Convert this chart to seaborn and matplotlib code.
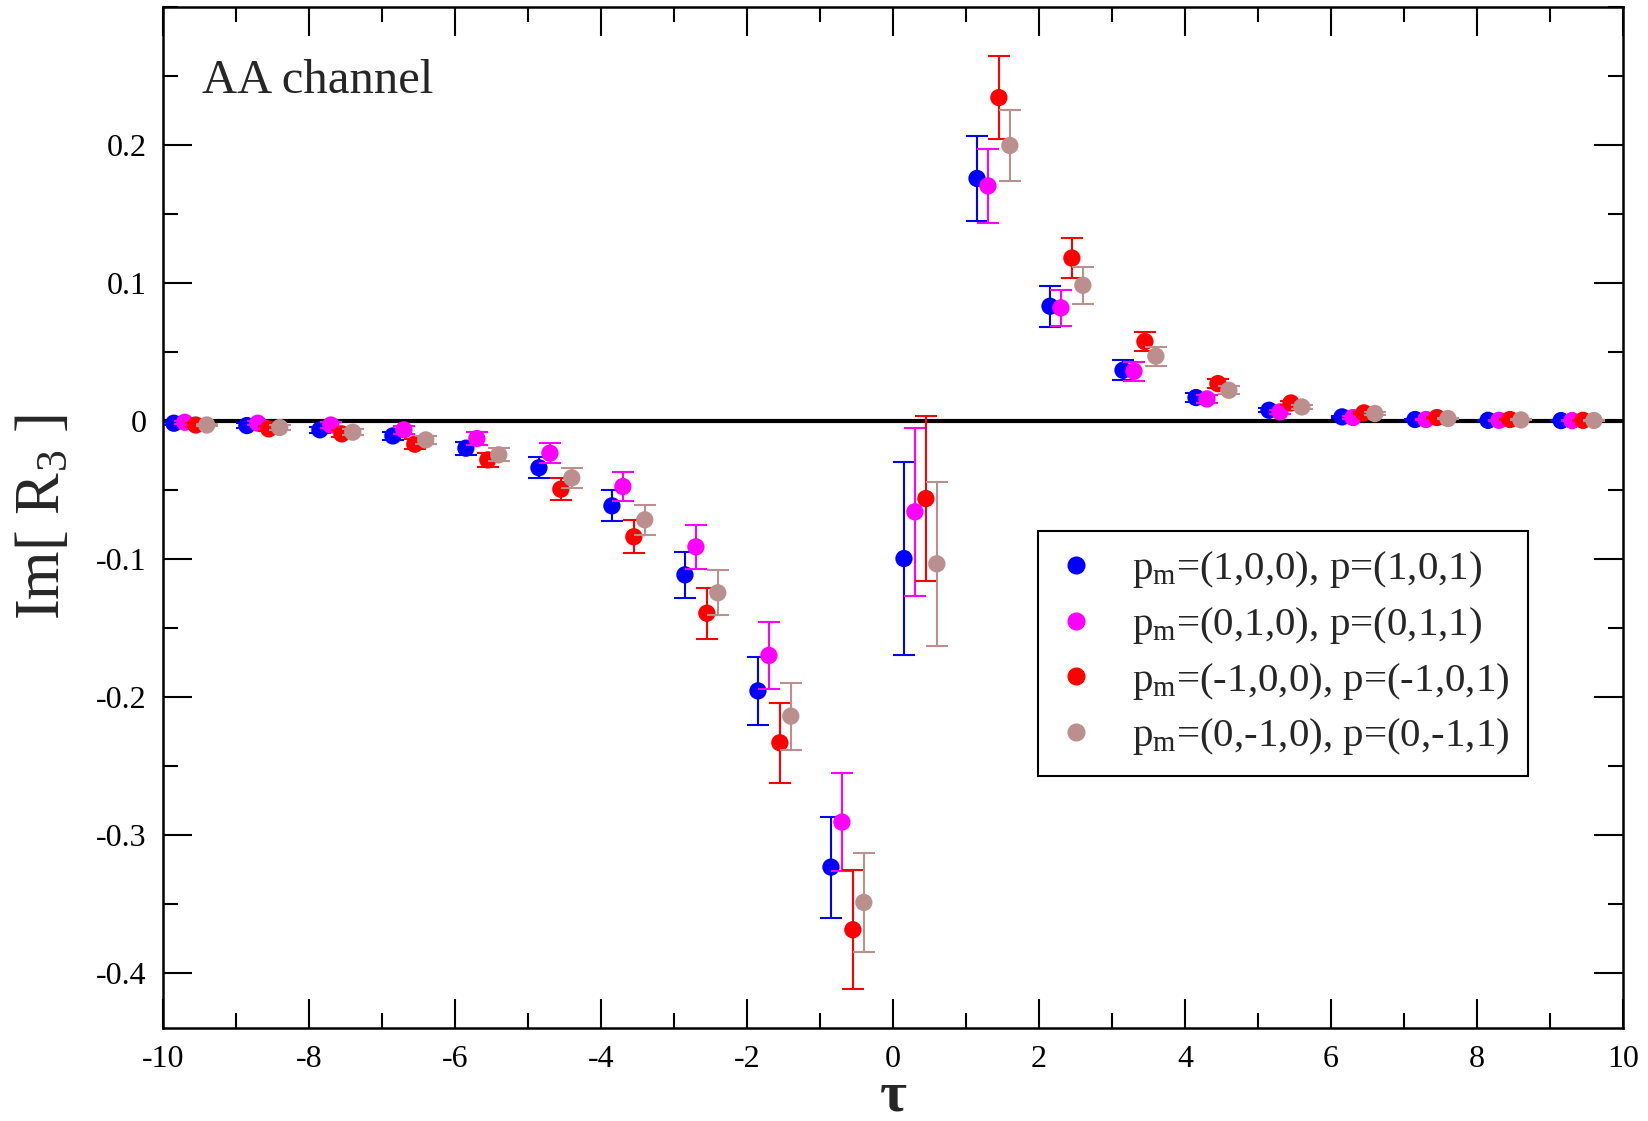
import numpy as np
import pandas as pd
import matplotlib
matplotlib.use("Agg")
import matplotlib.pyplot as plt
from matplotlib.lines import Line2D
from matplotlib.ticker import MultipleLocator, FixedLocator, FixedFormatter
import seaborn as sns

# ---------------- data ----------------
tau = list(range(-10, 10))
offsets = [0.15, 0.30, 0.45, 0.60]
series_labels = [
    r"p$_\mathrm{m}$=(1,0,0), p=(1,0,1)",
    r"p$_\mathrm{m}$=(0,1,0), p=(0,1,1)",
    r"p$_\mathrm{m}$=(-1,0,0), p=(-1,0,1)",
    r"p$_\mathrm{m}$=(0,-1,0), p=(0,-1,1)",
]
colors = ["#0000ff", "#ff00ff", "#ff0000", "#bc8f8f"]

blue_val = [-0.0017, -0.0034, -0.0065, -0.0109, -0.0198, -0.034, -0.0616, -0.1116, -0.1957, -0.3234,
            -0.0998, 0.1757, 0.0831, 0.0367, 0.0169, 0.0077, 0.0029, 0.0010, 0.0004, 0.0002]
blue_err = [0.001, 0.0015, 0.002, 0.003, 0.0047, 0.0075, 0.0112, 0.0168, 0.0249, 0.0366,
            0.070, 0.031, 0.015, 0.0074, 0.003, 0.0015, 0.0008, 0.0005, 0.0003, 0.0002]

magenta_val = [-0.0010, -0.0017, -0.0030, -0.0065, -0.0128, -0.0234, -0.0476, -0.0913, -0.170, -0.2908,
               -0.0659, 0.1703, 0.0819, 0.0360, 0.0159, 0.0065, 0.0024, 0.0010, 0.0004, 0.0002]
magenta_err = [0.001, 0.0015, 0.002, 0.003, 0.0046, 0.007, 0.0106, 0.0159, 0.0242, 0.0355,
               0.061, 0.0267, 0.0133, 0.007, 0.003, 0.0015, 0.0008, 0.0005, 0.0003, 0.0002]

red_val = [-0.0030, -0.0058, -0.0094, -0.0169, -0.0283, -0.0495, -0.084, -0.1394, -0.2333, -0.3688,
           -0.0563, 0.2343, 0.118, 0.0575, 0.027, 0.013, 0.0058, 0.0024, 0.0010, 0.0004]
red_err = [0.0012, 0.0018, 0.0025, 0.0035, 0.0052, 0.0079, 0.0121, 0.0186, 0.0289, 0.0432,
           0.060, 0.030, 0.0147, 0.0072, 0.0033, 0.0017, 0.0009, 0.0005, 0.0003, 0.0002]

brown_val = [-0.0030, -0.0048, -0.0082, -0.0138, -0.0246, -0.0413, -0.0717, -0.1246, -0.214, -0.349,
             -0.1036, 0.1996, 0.0983, 0.0469, 0.0222, 0.0101, 0.0053, 0.0017, 0.0007, 0.0003]
brown_err = [0.001, 0.0015, 0.002, 0.003, 0.0046, 0.0072, 0.0109, 0.0163, 0.0242, 0.0356,
             0.0594, 0.026, 0.0133, 0.0068, 0.003, 0.0015, 0.0008, 0.0005, 0.0003, 0.0002]

xtick_vals = list(range(-10, 11, 2))
xtick_labels = ["-10", "-8", "-6", "-4", "-2", "0", "2", "4", "6", "8", "10"]
ytick_vals = [-0.4, -0.3, -0.2, -0.1, 0.0, 0.1, 0.2]
ytick_labels = ["-0.4", "-0.3", "-0.2", "-0.1", "0", "0.1", "0.2"]

values = [blue_val, magenta_val, red_val, brown_val]
errors = [blue_err, magenta_err, red_err, brown_err]

rows = []
for k, (vals, errs) in enumerate(zip(values, errors)):
    for t, v, e in zip(tau, vals, errs):
        rows.append({"x": t + offsets[k], "y": v, "err": e, "series": series_labels[k]})
df = pd.DataFrame(rows)

# ---------------- style ----------------
sns.set_theme(style="ticks")
plt.rcParams["font.family"] = ["Liberation Serif", "DejaVu Serif"]
plt.rcParams["mathtext.fontset"] = "custom"
plt.rcParams["mathtext.rm"] = "Liberation Serif"
plt.rcParams["mathtext.it"] = "Liberation Serif:italic"
plt.rcParams["mathtext.bf"] = "Liberation Serif:bold"
plt.rcParams["axes.unicode_minus"] = False

fig = plt.figure(figsize=(16.49, 11.21), dpi=100)
ax = fig.add_axes([0.0988, 0.083, 0.8855, 0.9108])

ax.axhline(0, color="black", lw=3.0, zorder=1)

for k, lab in enumerate(series_labels):
    sub = df[df["series"] == lab]
    ax.errorbar(sub["x"], sub["y"], yerr=sub["err"], fmt="none", ecolor=colors[k],
                elinewidth=1.5, capsize=8, capthick=1.5, zorder=2 + 2 * k)
    sns.scatterplot(data=sub, x="x", y="y", color=colors[k], s=155, edgecolor="none",
                    linewidth=0, ax=ax, legend=False, zorder=3 + 2 * k)

ax.set_xlim(-10, 10)
ax.set_ylim(-0.44, 0.30)

ax.xaxis.set_major_locator(FixedLocator(xtick_vals))
ax.xaxis.set_major_formatter(FixedFormatter(xtick_labels))
ax.xaxis.set_minor_locator(MultipleLocator(1))
ax.yaxis.set_major_locator(FixedLocator(ytick_vals))
ax.yaxis.set_major_formatter(FixedFormatter(ytick_labels))
ax.yaxis.set_minor_locator(MultipleLocator(0.05))

ax.tick_params(which="both", direction="in", top=True, right=True, width=1.5, colors="black")
ax.tick_params(which="major", length=21, labelsize=23, pad=12)
ax.tick_params(which="minor", length=11)
for sp in ax.spines.values():
    sp.set_linewidth(1.8)
    sp.set_color("black")

ax.set_xlabel("τ", fontsize=42, fontweight="bold", labelpad=-2)
ax.set_ylabel(r"Im[ R$_3$ ]", fontsize=45, labelpad=16)

ax.text(0.027, 0.916, "AA channel", transform=ax.transAxes, fontsize=35, va="baseline", ha="left")

handles = [Line2D([], [], marker="o", linestyle="none", color=c, markersize=12) for c in colors]
leg = ax.legend(handles, series_labels, loc="upper left", bbox_to_anchor=(0.599, 0.487),
                fontsize=29.5, frameon=True, fancybox=False, edgecolor="black", framealpha=1,
                handletextpad=0.85, labelspacing=0.36, borderpad=0.45, handlelength=1.0,
                borderaxespad=0)
leg.get_frame().set_linewidth(1.5)

fig.savefig("out.png", dpi=100)
